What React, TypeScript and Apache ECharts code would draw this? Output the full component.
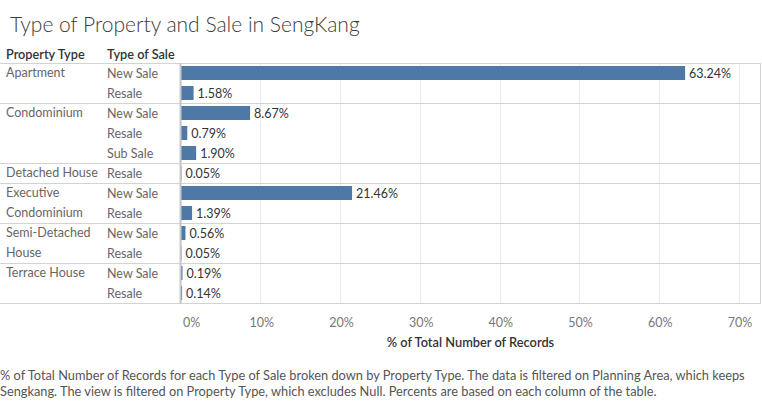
import React, { useEffect, useRef } from "react";
import * as echarts from "echarts";

const propertyTypes = ["Apartment", "Condominium", "Detached House", "Executive\nCondominium", "Semi-Detached\nHouse", "Terrace House"];
const saleTypes = [
  ["New Sale", "Resale"],
  ["New Sale", "Resale", "Sub Sale"],
  ["Resale"],
  ["New Sale", "Resale"],
  ["New Sale", "Resale"],
  ["New Sale", "Resale"],
];
const shares = [
  [63.24, 1.58],
  [8.67, 0.79, 1.9],
  [0.05],
  [21.46, 1.39],
  [0.56, 0.05],
  [0.19, 0.14],
];
const xMin = 0;
const xMax = 70;
const xStep = 10;

const titleText = "Type of Property and Sale in SengKang";
const headerLabels = ["Property Type", "Type of Sale"];
const axisTitle = "% of Total Number of Records";
const footnote =
  "% of Total Number of Records for each Type of Sale broken down by Property Type. The data is filtered on Planning Area, which keeps\nSengkang. The view is filtered on Property Type, which excludes Null. Percents are based on each column of the table.";

const FONT = "Lato";
const W = 762;
const H = 401;
const GRID_LEFT = 181;
const GRID_TOP = 63;
const ROW_H = 20;
const GRID_W = 558;
const RIGHT_EDGE = 760;
const SEP_COLOR = "#d3d3d3";

export default function App() {
  const ref = useRef<HTMLDivElement>(null);
  useEffect(() => {
    if (!ref.current) return;
    const chart = echarts.init(ref.current, undefined, { renderer: "svg" });

    const rowLabels: string[] = [];
    const rowValues: number[] = [];
    const groupStarts: number[] = [];
    saleTypes.forEach((g, gi) => {
      groupStarts.push(rowLabels.length);
      g.forEach((s, si) => {
        rowLabels.push(s);
        rowValues.push(shares[gi][si]);
      });
    });
    const nRows = rowLabels.length;
    const gridH = nRows * ROW_H;
    const boundaries = [...groupStarts, nRows];

    const graphics: any[] = [];
    boundaries.forEach((b) => {
      const y = GRID_TOP + b * ROW_H + 0.5;
      graphics.push({
        type: "line",
        shape: { x1: 0, y1: y, x2: RIGHT_EDGE + 1, y2: y },
        style: { stroke: SEP_COLOR, lineWidth: 1 },
        silent: true,
        z: 10,
      });
    });
    graphics.push({
      type: "line",
      shape: { x1: RIGHT_EDGE + 0.5, y1: GRID_TOP, x2: RIGHT_EDGE + 0.5, y2: GRID_TOP + gridH + 1 },
      style: { stroke: SEP_COLOR, lineWidth: 1 },
      silent: true,
    });
    graphics.push({
      type: "line",
      shape: { x1: GRID_LEFT - 0.5, y1: GRID_TOP, x2: GRID_LEFT - 0.5, y2: GRID_TOP + gridH + 1 },
      style: { stroke: "#c8c8c8", lineWidth: 2 },
      silent: true,
      z: 10,
    });
    propertyTypes.forEach((p, gi) => {
      graphics.push({
        type: "text",
        x: 6,
        y: GRID_TOP + groupStarts[gi] * ROW_H - 1,
        style: {
          text: p,
          fill: "#666",
          fontSize: 12.5,
          fontFamily: FONT,
          lineHeight: 20,
          verticalAlign: "top",
        },
        silent: true,
      });
    });
    graphics.push({
      type: "text",
      x: 6,
      y: 54,
      style: { text: headerLabels[0], fill: "#333", fontSize: 12.7, fontWeight: 600, fontFamily: FONT, verticalAlign: "middle" },
    });
    graphics.push({
      type: "text",
      x: 107,
      y: 54,
      style: { text: headerLabels[1], fill: "#333", fontSize: 12.7, fontWeight: 600, fontFamily: FONT, verticalAlign: "middle" },
    });
    graphics.push({
      type: "text",
      x: (GRID_LEFT + RIGHT_EDGE) / 2,
      y: 342,
      style: { text: axisTitle, fill: "#333", fontSize: 12.8, fontWeight: 600, fontFamily: FONT, align: "center", verticalAlign: "middle" },
    });
    graphics.push({
      type: "text",
      x: 0,
      y: 367,
      style: { text: footnote, fill: "#555", fontSize: 12.8, fontFamily: FONT, lineHeight: 16, verticalAlign: "top" },
    });

    chart.setOption({
      animation: false,
      textStyle: { fontFamily: FONT },
      title: {
        text: titleText,
        left: 5,
        top: 8,
        textStyle: { fontSize: 21, fontWeight: 300, color: "#3c3c3c", fontFamily: FONT },
      },
      grid: { left: GRID_LEFT, top: GRID_TOP, width: GRID_W, height: gridH, containLabel: false },
      xAxis: {
        type: "value",
        min: xMin,
        max: xMax,
        interval: xStep,
        axisLine: { show: false },
        axisTick: { show: false },
        splitLine: { show: true, lineStyle: { color: "#ececec", width: 1 } },
        axisLabel: {
          formatter: "{value}%",
          color: "#777",
          fontSize: 12.5,
          margin: 13,
          alignMinLabel: "left",
          padding: [0, 0, 0, 2],
        },
      },
      yAxis: {
        type: "category",
        inverse: true,
        data: rowLabels,
        axisLine: { show: false },
        axisTick: { show: false },
        splitLine: { show: false },
        axisLabel: { color: "#666", fontSize: 12.5, align: "left", margin: GRID_LEFT - 107 },
      },
      series: [
        {
          type: "bar",
          data: rowValues,
          barWidth: 14,
          itemStyle: { color: "#4e79a7" },
          label: {
            show: true,
            position: "right",
            distance: 4,
            color: "#333",
            fontSize: 12.5,
            formatter: (p: any) => `${Number(p.value).toFixed(2)}%`,
          },
        },
      ],
      graphic: graphics,
    });
    return () => chart.dispose();
  }, []);
  return (
    <div
      ref={ref}
      style={{ position: "fixed", left: 0, top: 0, width: W, height: H, background: "#fff" }}
    />
  );
}
